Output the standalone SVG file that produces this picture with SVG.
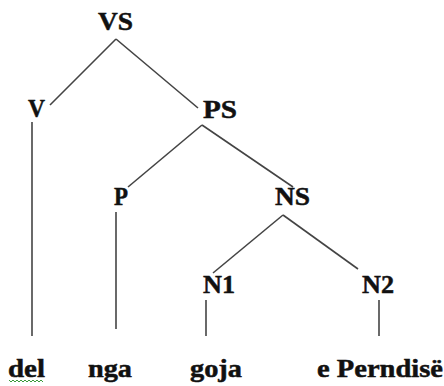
<svg xmlns="http://www.w3.org/2000/svg" width="444" height="386" viewBox="0 0 444 386">
<style>
.lbl{font-family:"Times New Roman","Liberation Serif",serif;font-weight:700;font-size:26px;fill:#111;stroke:#111;stroke-width:0.5}
.edge{stroke:#444;stroke-width:1.6;fill:none}
.spell{stroke:#3a9a3a;stroke-width:1;fill:none}
</style>
<rect width="444" height="386" fill="#fff"/>
<g id="connectors">
<line class="edge" x1="116" y1="39" x2="50" y2="105"/>
<line class="edge" x1="116" y1="39" x2="198" y2="108"/>
<line class="edge" x1="32" y1="122" x2="32" y2="336"/>
<line class="edge" x1="202" y1="125" x2="128" y2="187"/>
<line class="edge" x1="202" y1="125" x2="293" y2="187"/>
<line class="edge" x1="116" y1="212" x2="116" y2="329"/>
<line class="edge" x1="283" y1="215" x2="213" y2="273"/>
<line class="edge" x1="283" y1="215" x2="358" y2="269"/>
<line class="edge" x1="206" y1="300" x2="206" y2="336"/>
<line class="edge" x1="379" y1="300" x2="379" y2="336"/>
</g>
<g id="VS"><text class="lbl" x="98" y="30" textLength="35" lengthAdjust="spacingAndGlyphs">VS</text></g>
<g id="V"><text class="lbl" x="28" y="117" textLength="17" lengthAdjust="spacingAndGlyphs">V</text></g>
<g id="PS"><text class="lbl" x="203" y="118" textLength="34" lengthAdjust="spacingAndGlyphs">PS</text></g>
<g id="P"><text class="lbl" x="114" y="205" textLength="14" lengthAdjust="spacingAndGlyphs">P</text></g>
<g id="NS"><text class="lbl" x="275" y="205" textLength="35" lengthAdjust="spacingAndGlyphs">NS</text></g>
<g id="N1"><text class="lbl" x="203" y="293" textLength="32" lengthAdjust="spacingAndGlyphs">N1</text></g>
<g id="N2"><text class="lbl" x="362" y="293" textLength="32" lengthAdjust="spacingAndGlyphs">N2</text></g>
<g id="del"><text class="lbl" x="8" y="377" textLength="37" lengthAdjust="spacingAndGlyphs">del</text>
<path class="spell" d="M9 380 l2 2 l2 -2 l2 2 l2 -2 l2 2 l2 -2 l2 2 l2 -2 l2 2 l2 -2 l2 2 l2 -2 l2 2 l2 -2 l2 2 l2 -2 l2 2"/></g>
<g id="nga"><text class="lbl" x="88" y="377" textLength="44" lengthAdjust="spacingAndGlyphs">nga</text></g>
<g id="goja"><text class="lbl" x="190" y="377" textLength="52" lengthAdjust="spacingAndGlyphs">goja</text></g>
<g id="e_Perndise"><text class="lbl" x="317" y="377" textLength="126" lengthAdjust="spacingAndGlyphs">e Perndisë</text></g>
</svg>
